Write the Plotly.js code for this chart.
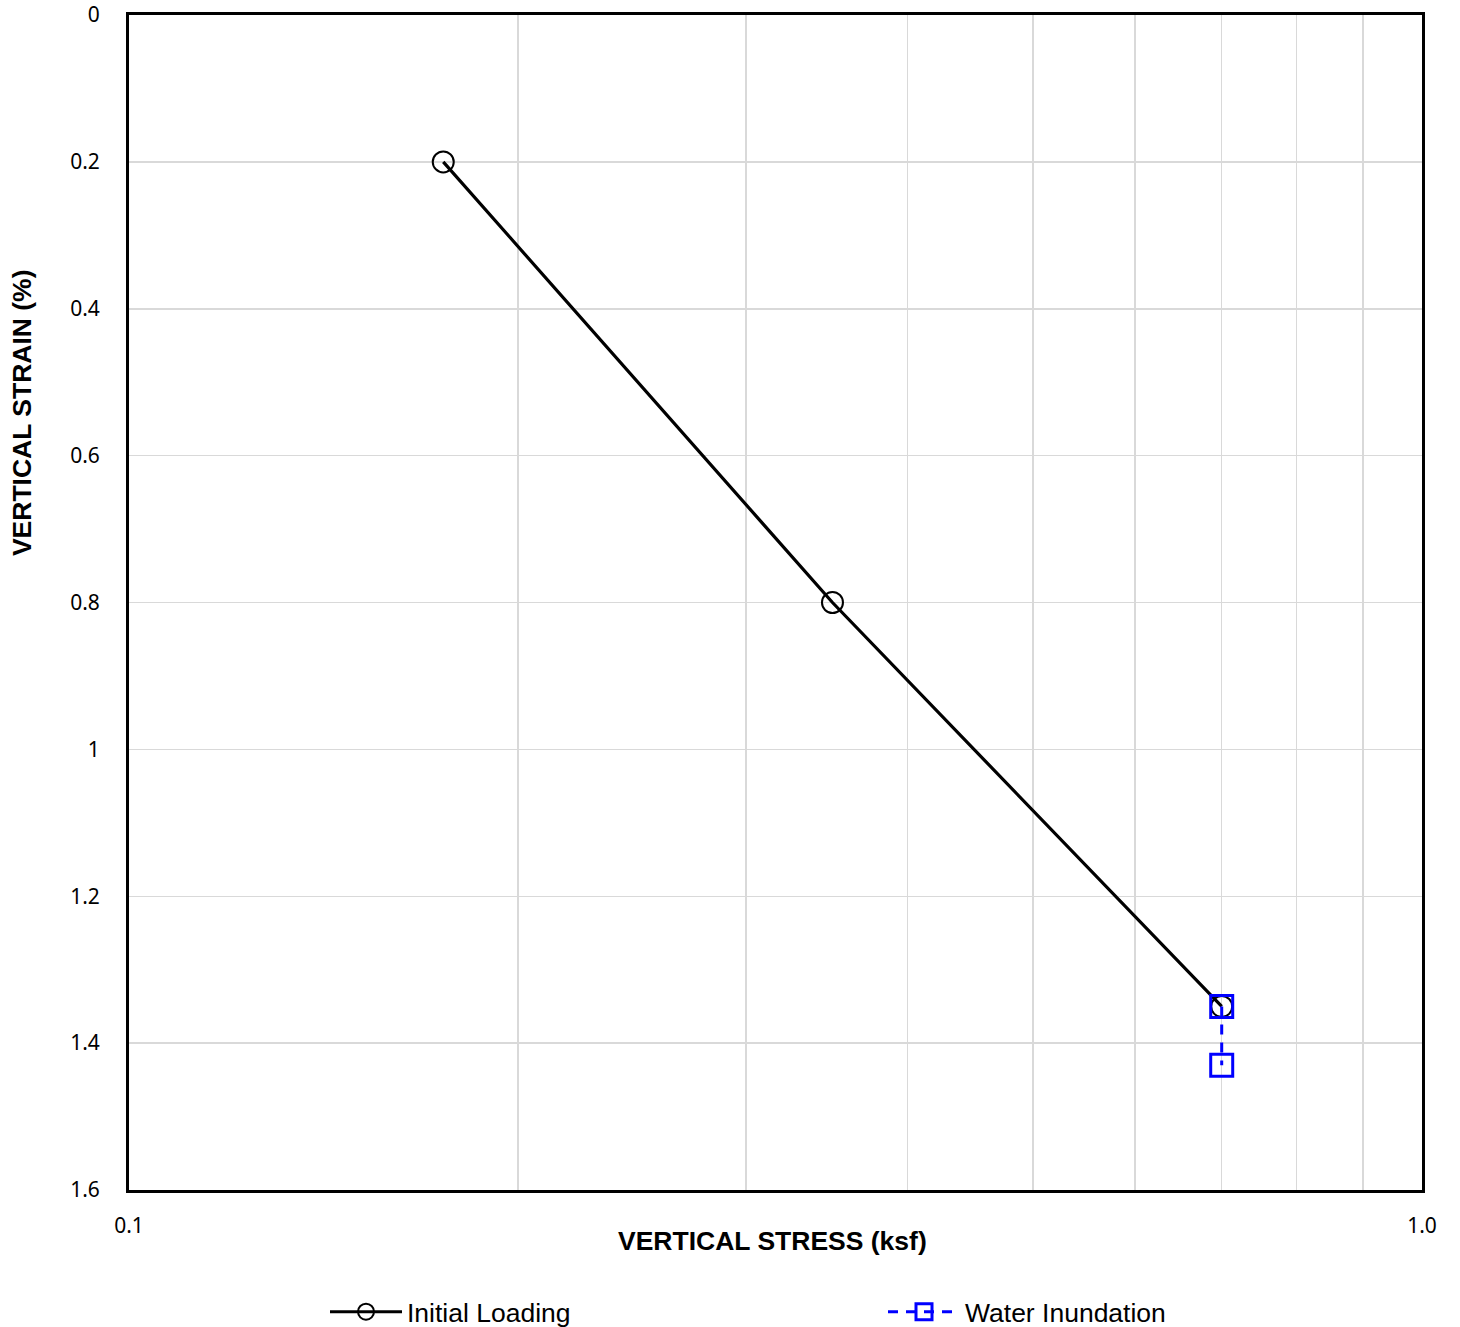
<!DOCTYPE html>
<html>
<head>
<meta charset="utf-8">
<script src="https://cdn.plot.ly/plotly-3.0.1.min.js"></script>
<style>html,body{margin:0;padding:0;background:#fff;}#chart{width:1460px;height:1327px;}</style>
</head>
<body>
<div id="chart"></div>
<script>
// Data
const loadStress = [0.175, 0.35, 0.7];
const loadStrain = [0.2, 0.8, 1.35];
const inundStress = [0.7, 0.7];
const inundStrain = [1.35, 1.43];
const xTickVals = [0.1, 0.2, 0.3, 0.4, 0.5, 0.6, 0.7, 0.8, 0.9, 1.0];
const xTickText = ["0.1", "", "", "", "", "", "", "", "", "1.0"];
const yTickVals = [0, 0.2, 0.4, 0.6, 0.8, 1, 1.2, 1.4, 1.6];
const yTickText = ["0", "0.2", "0.4", "0.6", "0.8", "1", "1.2", "1.4", "1.6"];

const traces = [
  {
    x: loadStress, y: loadStrain, name: "Initial Loading", type: "scatter", mode: "lines+markers",
    line: {color: "#000", width: 3.2},
    marker: {symbol: "circle-open", size: 21, color: "#000", line: {width: 2, color: "#000"}},
    legend: "legend"
  },
  {
    x: inundStress, y: inundStrain, name: "Water Inundation", type: "scatter", mode: "lines+markers",
    line: {color: "#0000ff", width: 3, dash: "10px,8px"},
    marker: {symbol: "square-open", size: 22, color: "#0000ff", line: {width: 3, color: "#0000ff"}},
    legend: "legend2"
  }
];

const tickFont = {family: "Noto Sans, Open Sans, sans-serif", size: 21, color: "#000"};
const legFont = {family: "Liberation Sans, Arial, sans-serif", size: 26.5, color: "#000"};
const titleFont = {family: "Liberation Sans, Arial, sans-serif", size: 26.5, color: "#000"};
const layout = {
  width: 1460, height: 1327,
  margin: {l: 129, r: 38, t: 15, b: 137, autoexpand: false},
  paper_bgcolor: "#fff", plot_bgcolor: "#fff",
  xaxis: {
    type: "log", range: [-1, 0],
    tickmode: "array", tickvals: xTickVals, ticktext: xTickText,
    showgrid: true, gridcolor: "#d9d9d9", gridwidth: 1.5,
    showline: true, linecolor: "#000", linewidth: 3, mirror: true,
    ticks: "", ticklabelstandoff: 15,
    tickfont: tickFont, zeroline: false
  },
  yaxis: {
    range: [1.6, 0], autorange: false,
    tickmode: "array", tickvals: yTickVals, ticktext: yTickText,
    showgrid: true, gridcolor: "#d9d9d9", gridwidth: 1.5,
    showline: true, linecolor: "#000", linewidth: 3, mirror: true,
    ticks: "", ticklabelstandoff: 22,
    tickfont: tickFont, zeroline: false
  },
  annotations: [
    {
      text: "<b>VERTICAL STRAIN (%)</b>", textangle: -90,
      xref: "paper", yref: "paper", x: -0.0828, y: 0.662,
      xanchor: "center", yanchor: "middle", showarrow: false,
      font: titleFont
    },
    {
      text: "<b>VERTICAL STRESS (ksf)</b>",
      xref: "paper", yref: "paper", x: (772 - 129) / 1293, y: -(1241 - 1190) / 1175,
      xanchor: "center", yanchor: "middle", showarrow: false,
      font: titleFont
    }
  ],
  showlegend: true,
  legend: {
    x: (325 - 129) / 1293, y: -(1312 - 1190) / 1175, xanchor: "left", yanchor: "middle",
    xref: "paper", yref: "paper", bgcolor: "rgba(0,0,0,0)", itemwidth: 72,
    font: legFont
  },
  legend2: {
    x: (883 - 129) / 1293, y: -(1312 - 1190) / 1175, xanchor: "left", yanchor: "middle",
    xref: "paper", yref: "paper", bgcolor: "rgba(0,0,0,0)", itemwidth: 72,
    font: legFont
  }
};

Plotly.newPlot("chart", traces, layout, {displayModeBar: false, staticPlot: true});
</script>
</body>
</html>
